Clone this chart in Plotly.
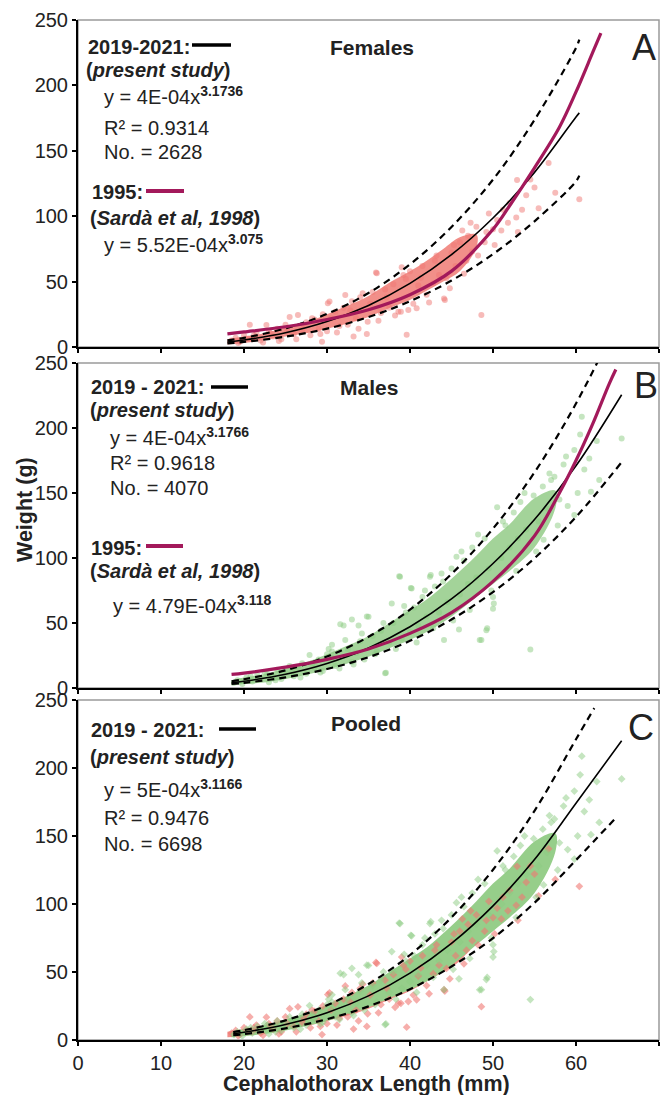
import plotly.graph_objects as go

# ---------------- data ----------------
# Females (panel A)
fem_fit_x = [18, 20, 25, 30, 35, 40, 45, 50, 55, 60, 60.4]
fem_fit_y = [3.85, 5.38, 10.93, 19.49, 31.8, 48.6, 70.6, 98.6, 133.5, 175.9, 179]
fem_up_y = [5.0, 7.0, 14.2, 25.3, 41.3, 63.2, 91.8, 128, 173.6, 228.7, 235]
fem_lo_y = [2.8, 3.9, 7.9, 14.0, 22.9, 35.0, 50.8, 71.0, 96.1, 126.6, 131]
fem_1995_x = [18, 20, 25, 30, 35, 40, 45, 50, 52, 55, 58, 60, 62, 63]
fem_1995_y = [10, 11.5, 15.5, 21, 28.5, 40, 58, 90, 108, 137, 168, 195, 225, 240]
fem_core_x = [18, 20, 22, 25, 28, 30, 33, 35, 38, 40, 42, 44, 46, 48]
fem_core_lo = [2, 3, 5, 8, 11, 14, 19, 23, 31, 36, 43, 50, 58, 76]
fem_core_hi = [6, 8, 10, 15, 20, 25, 33, 39, 51, 58, 66, 75, 84, 86]
fem_pts_x = [18.5, 19, 19.5, 20, 20.7, 21, 21.5, 22, 22.7, 23, 23.5, 24, 24.5, 25, 25.5, 26, 26.5, 27, 27.5, 28,
             28.5, 29, 29.4, 29.5, 30, 30.1, 30.3, 31, 31.5, 32, 32.2, 32.5, 33, 33.2, 33.5, 34, 34.3, 34.8, 34.9,
             35.5, 35.9, 36, 36.5, 37, 37.5, 38, 38.6, 38.9, 39, 39.5, 39.6, 39.8, 40, 40.8, 41, 41.5, 42, 42.8, 43,
             43.5, 44.1, 44.2, 44.4, 45, 45.5, 46, 46.3, 46.8, 47, 47.5, 48, 48.6, 49, 49.5, 50, 50.5, 51, 51.8, 52,
             52.8, 52.9, 53.5, 54, 55, 56.7, 60.4,
             19.3, 20.5, 21.2, 22.3, 23.2, 24.2, 25.2, 26.3, 27.2, 28.2, 29.2, 30.5, 31.2, 32.8, 33.8, 35.2, 36.2,
             37.2, 38.2, 39.2, 40.4, 41.3, 42.3, 43.2, 44.8, 45.3, 46.5, 47.3, 48.2, 49.2, 50.2, 51.2, 53, 54.5,
             55.5, 57.5]
fem_pts_y = [5, 7, 4, 9, 17, 6, 11, 5, 16.8, 12, 8, 14, 6, 17, 23, 10, 24.4, 13, 19, 9,
             21, 14, 4, 25, 12, 33.4, 34.7, 27, 16, 30, 39.7, 17, 35, 8, 22, 38, 41, 10, 19.3,
             42, 57, 56.3, 26, 44, 30, 48, 27, 27, 61, 52, 9.4, 28.3, 58, 29.6, 47, 62, 40, 48.7, 66,
             55, 37, 36, 52.6, 72, 62, 80, 89, 66, 85, 73, 92, 24.5, 80, 102, 90, 97, 89, 95, 110,
             99, 127.7, 105, 116, 122, 140.6, 113,
             3, 6.5, 9, 3.5, 10.5, 4.5, 12, 6, 16, 22, 10, 22, 11, 28, 14, 33, 20,
             38, 24, 55, 33, 53, 34, 70, 45, 78, 56, 95, 70, 88, 78, 105, 88, 128,
             106, 118]

# Males (panel B)
mal_fit_x = [18.5, 20, 25, 30, 35, 40, 45, 50, 55, 60, 65.5]
mal_fit_y = [4.07, 5.2, 10.6, 18.9, 30.8, 47.1, 68.5, 95.8, 129.6, 170.9, 225.6]
mal_up_y = [5.2, 6.7, 13.6, 24.2, 39.4, 60.3, 87.7, 122.6, 165.9, 218.8, 288.8]
mal_lo_y = [3.1, 4.0, 8.2, 14.6, 23.7, 36.3, 52.7, 73.8, 99.8, 131.6, 173.7]
mal_1995_x = [18.5, 20, 25, 30, 35, 40, 45, 50, 55, 58, 60, 62, 64, 64.8]
mal_1995_y = [10.5, 11.5, 16, 22, 30, 42, 58, 82, 117, 150, 175, 203, 234, 245]
mal_core_x = [18.5, 20, 22, 25, 28, 30, 33, 35, 38, 40, 42, 45, 48, 50, 52, 55, 57.5]
mal_core_lo = [2, 3, 4, 7, 11, 14, 20, 24, 32, 37, 43, 55, 70, 80, 90, 108, 138]
mal_core_hi = [6, 8, 10, 15, 21, 26, 34, 40, 52, 60, 68, 84, 102, 115, 126, 146, 152]
mal_pts_x = [18.8, 19.2, 19.8, 20.3, 21, 21.6, 22, 22.5, 23, 23.5, 24, 24.5, 25, 25.5, 26, 26.5, 27, 27.5, 27.9,
             28.5, 29, 29.5, 30, 30.6, 30.6, 30.6, 31, 31.6, 32, 32.5, 33, 33, 33.5, 33.8, 34, 34.5, 34.8, 35,
             35.5, 36, 36.5, 37, 37.1, 37.5, 37.8, 38, 38.7, 38.8, 39, 39.5, 40, 40.1, 40.2, 40.5, 41, 41.5, 42,
             42.4, 42.5, 43, 43.5, 44, 44.1, 44.5, 45, 45.6, 45.9, 46, 46.5, 47, 47.5, 48, 48.4, 48.6, 49, 49.2,
             49.3, 49.5, 50, 50, 50.1, 50.5, 51, 51.5, 52, 52.5, 53, 53.3, 54, 54.5, 54.9, 55.5, 56, 56.1, 56.5,
             57, 57.4, 58, 58.5, 59, 59.8, 59.8, 60.7, 61, 61.6, 61.8, 62.5, 65.5,
             19.5, 20.8, 22.8, 23.8, 25.8, 26.8, 28.2, 29.2, 30.2, 31.5, 32.2, 33.2, 34.2, 35.8, 36.8, 38.3, 39.3,
             40.8, 41.8, 42.8, 43.8, 45.2, 46.2, 47.2, 48.2, 49.8, 51.2, 52.8, 53.8, 55.2, 56.8, 57.8, 58.8, 60.2,
             60.5, 62.8]
mal_pts_y = [4, 6, 3, 8, 5, 10, 7, 12, 4.5, 9, 14, 7, 12, 17, 9, 15, 19, 11, 25.3,
             16, 22, 13, 26, 33.2, 28, 23, 17, 49, 48, 30, 52.7, 20, 27, 48, 36, 22, 55, 54.8,
             40, 28, 44, 11.3, 11.8, 35, 65, 50, 86, 85.6, 38, 58, 43, 77, 76.6, 62, 48, 70, 55,
             85.6, 87, 78, 58, 82, 37, 66, 92, 101, 45, 72, 98, 80, 108, 85, 36.9, 37, 115, 44.4,
             46, 92, 61, 70, 65, 139, 100, 125, 108, 135, 115, 143, 122, 29.7, 148, 128, 155, 114, 138,
             160, 162.5, 145, 172, 140, 183, 133, 208.7, 168, 176.6, 151, 190, 192,
             5, 9, 11, 6, 14, 8, 19, 12, 30, 15, 37, 18, 42, 26, 50, 30, 63,
             35, 75, 46, 88, 52, 105, 60, 118, 75, 128, 90, 150, 105, 165, 125, 178, 150,
             195, 160]

# Pooled (panel C)
poo_fit_x = [18.7, 20, 25, 30, 35, 40, 45, 50, 55, 60, 65.5]
poo_fit_y = [4.6, 5.67, 11.37, 20.07, 32.44, 49.2, 71.0, 98.6, 132.7, 174.1, 220]
poo_up_x = [18.7, 20, 25, 30, 35, 40, 45, 50, 55, 60, 62.2]
poo_up_y = [5.8, 7.2, 14.4, 25.5, 41.2, 62.5, 90.2, 125.2, 168.5, 221.1, 244]
poo_lo_x = [18.7, 20, 25, 30, 35, 40, 45, 50, 55, 60, 64.9]
poo_lo_y = [3.5, 4.3, 8.6, 15.3, 24.7, 37.4, 54.0, 74.9, 100.9, 132.3, 164]

x_ticks = [0, 10, 20, 30, 40, 50, 60, 70]
y_ticks = [0, 50, 100, 150, 200, 250]

# ---------------- styling ----------------
FONT = "Liberation Sans, Arial, sans-serif"
RED_CORE = "rgba(238,112,104,0.78)"
RED_PT = "rgba(240,120,115,0.50)"
GREEN_CORE = "rgba(140,200,128,0.80)"
GREEN_CORE_C = "rgb(150,206,138)"
GREEN_PT = "rgba(140,204,130,0.50)"
MAGENTA = "#A3195B"

fig = go.Figure()


def add_panel(ax, core_sets, pt_sets, fit_x, fit_y, up_x, up_y, lo_x, lo_y, old=None, symbol="circle"):
    xa, ya = ("x" + ax, "y" + ax)
    for cx, clo, chi, col in core_sets:
        fig.add_trace(go.Scatter(x=cx + cx[::-1], y=chi + clo[::-1], fill="toself", fillcolor=col,
                                 line=dict(width=0, shape="spline"), mode="lines", hoverinfo="skip",
                                 xaxis=xa, yaxis=ya, showlegend=False))
    for px, py, col in pt_sets:
        fig.add_trace(go.Scatter(x=px, y=py, mode="markers", marker=dict(color=col, size=6, symbol=symbol),
                                 xaxis=xa, yaxis=ya, showlegend=False))
    for dx, dy in ((up_x, up_y), (lo_x, lo_y)):
        fig.add_trace(go.Scatter(x=dx, y=dy, mode="lines",
                                 line=dict(color="black", width=2.2, dash="7px,5px", shape="spline"),
                                 xaxis=xa, yaxis=ya, showlegend=False))
    fig.add_trace(go.Scatter(x=fit_x, y=fit_y, mode="lines",
                             line=dict(color="black", width=1.6, shape="spline"),
                             xaxis=xa, yaxis=ya, showlegend=False))
    if old is not None:
        fig.add_trace(go.Scatter(x=old[0], y=old[1], mode="lines",
                                 line=dict(color=MAGENTA, width=3.2, shape="spline"),
                                 xaxis=xa, yaxis=ya, showlegend=False))


add_panel("", [(fem_core_x, fem_core_lo, fem_core_hi, RED_CORE)], [(fem_pts_x, fem_pts_y, RED_PT)],
          fem_fit_x, fem_fit_y, fem_fit_x, fem_up_y, fem_fit_x, fem_lo_y, old=(fem_1995_x, fem_1995_y))
add_panel("2", [(mal_core_x, mal_core_lo, mal_core_hi, GREEN_CORE)], [(mal_pts_x, mal_pts_y, GREEN_PT)],
          mal_fit_x, mal_fit_y, mal_fit_x, mal_up_y, mal_fit_x, mal_lo_y, old=(mal_1995_x, mal_1995_y))
add_panel("3", [(fem_core_x, fem_core_lo, fem_core_hi, RED_CORE), (mal_core_x, mal_core_lo, mal_core_hi, GREEN_CORE_C)],
          [(fem_pts_x, fem_pts_y, "rgba(240,120,115,0.6)"), (mal_pts_x, mal_pts_y, GREEN_PT)],
          poo_fit_x, poo_fit_y, poo_up_x, poo_up_y, poo_lo_x, poo_lo_y, symbol="diamond")

# ---------------- layout ----------------
W, H = 668, 1095
L, R, T, B = 78, 9, 20, 55
PW, PH = W - L - R, H - T - B


def fx(px):
    return (px - L) / PW


def fy(py):
    return (H - B - py) / PH


domains = {"": [fy(347), 1.0], "2": [fy(688), fy(363)], "3": [0.0, fy(700)]}

axis_common = dict(showline=True, linecolor="black", linewidth=2, ticks="outside", ticklen=4,
                   tickwidth=1.5, tickcolor="black", showgrid=False, zeroline=False,
                   tickfont=dict(family=FONT, size=20, color="#222"))
layout = dict(width=W, height=H, margin=dict(l=L, r=R, t=T, b=B), plot_bgcolor="white",
              paper_bgcolor="white", font=dict(family=FONT, color="#222"), showlegend=False)
for ax, dom in domains.items():
    layout["xaxis" + ax] = dict(axis_common, range=[0, 70], tickvals=x_ticks, anchor="y" + ax,
                                showticklabels=(ax == "3"), domain=[0, 1])
    layout["yaxis" + ax] = dict(axis_common, range=[0, 250], tickvals=y_ticks, anchor="x" + ax, domain=dom)
fig.update_layout(**layout)

shapes = []
for ax in domains:
    shapes.append(dict(type="rect", xref=("x" + ax + " domain"), yref=("y" + ax + " domain"),
                       x0=0, x1=1, y0=0, y1=1, line=dict(color="#9a9a9a", width=1.5), layer="below"))


def hline(x0, x1, py, color, w):
    shapes.append(dict(type="line", xref="paper", yref="paper", x0=fx(x0), x1=fx(x1), y0=fy(py), y1=fy(py),
                       line=dict(color=color, width=w)))


hline(192, 231, 45, "black", 3.5)
hline(146, 184, 191, MAGENTA, 4)
hline(211, 248, 387, "black", 3.5)
hline(146, 183, 546, MAGENTA, 4)
hline(219, 256, 729, "black", 3.5)
fig.update_layout(shapes=shapes)

anns = []


def txt(text, px, py, size=20, xanchor="left", angle=0):
    anns.append(dict(text=text, x=fx(px), y=fy(py), xref="paper", yref="paper", xanchor=xanchor,
                     yanchor="middle", showarrow=False, textangle=angle,
                     font=dict(family=FONT, size=size, color="#222")))


# panel A
txt("<b>2019-2021:</b>", 86, 47)
txt("<b>(<i>present study</i>)</b>", 84, 70)
txt("y = 4E-04x<sup><b>3.1736</b></sup>", 102, 96)
txt("R² = 0.9314", 102, 128)
txt("No. = 2628", 102, 152)
txt("<b>1995:</b>", 90, 192)
txt("<b>(<i>Sardà et al, 1998</i>)</b>", 88, 218)
txt("y = 5.52E-04x<sup><b>3.075</b></sup>", 102, 243)
txt("<b>Females</b>", 372, 47, 21, "center")
txt("A", 644, 47, 36, "center")
# panel B
txt("<b>2019 - 2021:</b>", 89, 387)
txt("<b>(<i>present study</i>)</b>", 88, 410)
txt("y = 4E-04x<sup><b>3.1766</b></sup>", 108, 436)
txt("R² = 0.9618", 108, 463)
txt("No. = 4070", 108, 488)
txt("<b>1995:</b>", 89, 548)
txt("<b>(<i>Sardà et al, 1998</i>)</b>", 88, 571)
txt("y = 4.79E-04x<sup><b>3.118</b></sup>", 111, 604)
txt("<b>Males</b>", 369, 387, 21, "center")
txt("B", 646, 386, 36, "center")
# panel C
txt("<b>2019 - 2021:</b>", 89, 730)
txt("<b>(<i>present study</i>)</b>", 88, 757)
txt("y = 5E-04x<sup><b>3.1166</b></sup>", 102, 788)
txt("R² = 0.9476", 102, 818)
txt("No. = 6698", 102, 844)
txt("<b>Pooled</b>", 366, 723, 21, "center")
txt("C", 641, 727, 36, "center")
# axis titles
txt("<b>Cephalothorax Length (mm)</b>", 366, 1084, 21.5, "center")
txt("<b>Weight (g)</b>", 25, 510, 21.5, "center", -90)
fig.update_layout(annotations=anns)

fig.write_html("out.html")
